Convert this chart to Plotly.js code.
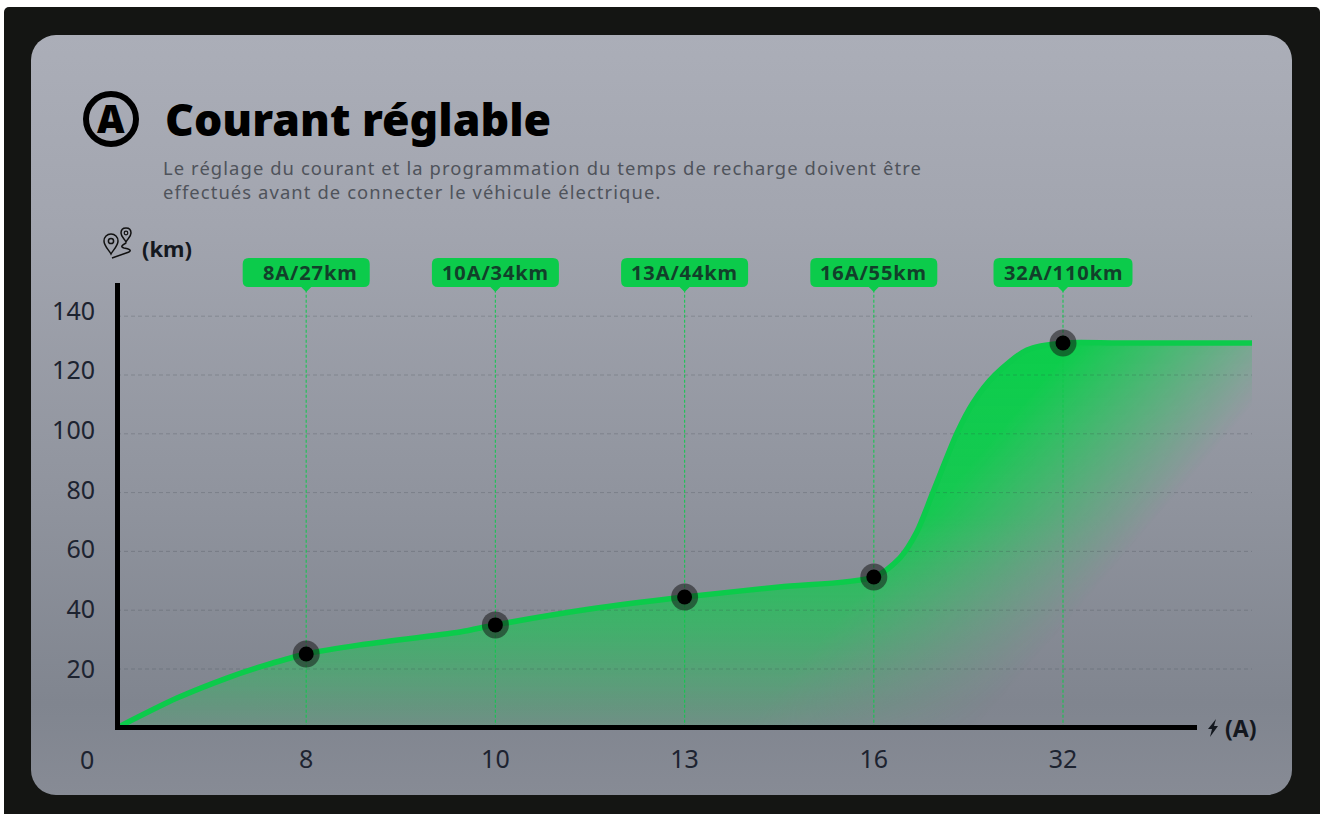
<!DOCTYPE html>
<html><head><meta charset="utf-8">
<script src="https://cdn.plot.ly/plotly-3.0.1.min.js"></script>
<style>
html,body{margin:0;padding:0;background:#fff;width:1322px;height:814px;overflow:hidden}
#frame{position:absolute;left:4px;top:7px;width:1316px;height:807px;background:#141513;border-radius:5px 5px 0 0}
#card{position:absolute;left:31px;top:35px;width:1261px;height:760px;border-radius:25px;
background:linear-gradient(180deg,#abaeb8 0%,#a2a5af 25%,#90949e 60%,#80858f 88%,#878b95 100%)}
#chart{position:absolute;left:0;top:0;width:1322px;height:814px}
</style></head><body>
<div id="frame"></div><div id="card"></div><div id="chart"></div>
<script>
// ---- data ----
const categories = ['8','10','13','16','32'];
const categoryPos = [1,2,3,4,5];
const rangeKm = [25.1,35,44.5,51.3,130.9];
const pillLabels = ['8A/27km','10A/34km','13A/44km','16A/55km','32A/110km'];
const curveX = [0,.317,.581,.756,1,1.284,1.813,2,2.5,3,3.5,4,4.137,4.227,4.313,4.44,4.524,4.64,4.81,5,5.3,6];
const curveY = [0,10.1,16.9,20.7,25.1,28.2,32.6,35,40.4,44.5,47.9,51.3,57.7,66.6,80.2,100.3,110.5,120,128.5,130.9,130.9,130.9];
const yTicks = [20,40,60,80,100,120,140];

// ---- page geometry helpers ----
const W=1322,H=814,L=117,R=1252,T=283,B=727.8;
const px=x=>x/W, py=y=>1-y/H;
const GREEN='#0ccb4b', INK='#1d2330';
const yMax=(B-T)/((B-669)/20);

function pill(w,h,r,tip){
  const a=w/2;
  return `M${-a+r},0 L${a-r},0 Q${a},0 ${a},${-r} L${a},${-h+r} Q${a},${-h} ${a-r},${-h} `+
   `L${tip},${-h} L0,${-h-tip} L${-tip},${-h} L${-a+r},${-h} Q${-a},${-h} ${-a},${-h+r} L${-a},${-r} Q${-a},0 ${-a+r},0 Z`;
}
function iconShape(x,y,path,o){
  return Object.assign({type:'path',layer:'above',xref:'paper',yref:'paper',xsizemode:'pixel',ysizemode:'pixel',
    xanchor:px(x),yanchor:py(y),path},o);
}
function ring(x,y,r,o){
  return Object.assign({type:'circle',layer:'above',xref:'paper',yref:'paper',xsizemode:'pixel',ysizemode:'pixel',
    xanchor:px(x),yanchor:py(y),x0:-r,x1:r,y0:-r,y1:r,fillcolor:'rgba(0,0,0,0)'},o);
}

const traces=[];
// filled curve
traces.push({x:curveX,y:curveY,mode:'none',type:'scatter',fill:'tozeroy',line:{shape:'spline',smoothing:.8},
  fillgradient:{type:'vertical',colorscale:[[0,'rgba(12,205,75,0.14)'],[0.25,'rgba(12,205,75,0.55)'],[0.55,'rgba(12,205,75,0.92)'],[1,'rgba(12,205,75,1)']]},
  hoverinfo:'skip',showlegend:false});
// grid
yTicks.forEach(v=>traces.push({x:[0,6],y:[v,v],mode:'lines',line:{color:'rgba(50,54,62,0.22)',width:1,dash:'4px,3px'},hoverinfo:'skip',showlegend:false}));
// droplines
categoryPos.forEach(p=>traces.push({x:[p,p],y:[0,149],mode:'lines',line:{color:'rgba(16,200,76,0.85)',width:1.2,dash:'3px,2px'},hoverinfo:'skip',showlegend:false}));
// curve line
traces.push({x:curveX,y:curveY,mode:'lines',line:{shape:'spline',smoothing:.8,color:GREEN,width:5.5},hoverinfo:'skip',showlegend:false});
// markers
traces.push({x:categoryPos,y:rangeKm,mode:'markers',marker:{size:27,color:'rgba(20,20,20,0.52)'},cliponaxis:false,showlegend:false});
traces.push({x:categoryPos,y:rangeKm,mode:'markers',marker:{size:15,color:'#000'},cliponaxis:false,showlegend:false});
// carrier of the label axis
traces.push({x:[0],y:[20],yaxis:'y2',mode:'none',hoverinfo:'skip',showlegend:false});

const ic={line:{color:'#111',width:1.5},fillcolor:'rgba(0,0,0,0)'};
const shapes=[
  {type:'line',xref:'paper',yref:'paper',x0:px(115),x1:px(1197),y0:py(727.5),y1:py(727.5),line:{color:'#000',width:5},layer:'above'},
  {type:'line',xref:'paper',yref:'paper',x0:px(117.5),x1:px(117.5),y0:py(730),y1:py(283),line:{color:'#000',width:5},layer:'above'},
  ring(111,119,25,{line:{color:'#000',width:6}}),
  iconShape(111,241,'M0,-13 C-2,-9 -7,-5 -7,0 C-7,4 -4,7 0,7 C4,7 7,4 7,0 C7,-5 2,-9 0,-13 Z',ic),
  ring(111,241,2.6,ic),
  iconShape(126,233,'M0,-9 C-1,-6 -5,-4 -5,0 C-5,3 -3,5 0,5 C3,5 5,3 5,0 C5,-4 1,-6 0,-9 Z',ic),
  ring(126,233,1.8,{line:{color:'#111',width:1.2}}),
  iconShape(126,243,'M0,0 C-4,-2 -6,-4 -2,-5 C3,-6 6,-7 3,-9 L-14,-15',ic),
  iconShape(1213,728,'M3,9 L-5,-1 L-1,-1 L-3,-9 L5,2 L1,2 Z',{line:{width:0},fillcolor:'#14181f'})
];
categoryPos.forEach((p,i)=>{
  shapes.push({type:'path',layer:'above',xref:'x',yref:'paper',xsizemode:'pixel',ysizemode:'pixel',
    xanchor:p,yanchor:py(258),path:pill(i===4?139:127,29,6,5),line:{width:0},fillcolor:GREEN});
});

const sp=(s,t)=>`<span style="letter-spacing:${s}px">${t}</span>`;
function txt(x,y,text,size,opt){
  return Object.assign({xref:'paper',yref:'paper',x:px(x),y:py(y),text,showarrow:false,xanchor:'left',yanchor:'middle',
    font:Object.assign({family:'"Noto Sans",sans-serif',size,color:INK},opt&&opt.font||{})},opt&&opt.a||{});
}
const annotations=[
  txt(163,118,'Courant réglable',44.6,{font:{weight:900,color:'#000'}}),
  txt(111,118,'A',38,{font:{weight:900,color:'#000'},a:{xanchor:'center'}}),
  txt(161,168,sp(1.09,'Le réglage du courant et la programmation du temps de recharge doivent être'),18.4,{font:{color:'#4f535b'}}),
  txt(161,192,sp(1.09,'effectués avant de connecter le véhicule électrique.'),18.4,{font:{color:'#4f535b'}}),
  txt(140,248,'(km)',22,{font:{weight:700,color:'#14181f'}}),
  txt(1223,728,'(A)',23,{font:{weight:700,color:'#14181f'}}),
  txt(87,759,'0',25,{a:{xanchor:'center'}})
];
categoryPos.forEach((p,i)=>{
  annotations.push({xref:'x',yref:'paper',x:p,y:py(272),text:sp(0.9,pillLabels[i]),showarrow:false,xanchor:'center',yanchor:'middle',
    xshift:i===0?4:0,font:{family:'"Noto Sans",sans-serif',size:20,weight:700,color:'#12402a'}});
});

const tickFont={family:'"Noto Sans",sans-serif',size:25,color:INK};
const layout={
  width:W,height:H,margin:{l:0,r:0,t:0,b:0,pad:0},paper_bgcolor:'rgba(0,0,0,0)',plot_bgcolor:'rgba(0,0,0,0)',showlegend:false,
  xaxis:{domain:[px(L),px(R)],range:[0,(R-L)/((1063-L)/5)],tickmode:'array',tickvals:categoryPos,ticktext:categories,showgrid:false,zeroline:false,showline:false,
    ticks:'',ticklabelstandoff:14,tickfont:tickFont,fixedrange:true},
  yaxis:{domain:[py(B),py(T)],range:[0,yMax],showticklabels:false,ticks:'',showgrid:false,zeroline:false,showline:false,fixedrange:true},
  yaxis2:{domain:[py(B),py(T)],overlaying:'y',side:'left',range:[0.29,149.4],tickmode:'array',tickvals:yTicks,ticktext:yTicks.map(String),showgrid:false,zeroline:false,showline:false,
    ticks:'',ticklabelstandoff:21,tickfont:tickFont,fixedrange:true},
  shapes,annotations
};

function restyleFill(gd){
  // turn the library's fill into the picture's fade towards the lower right
  const path=gd.querySelector('.fills path.js-fill, path.js-fill');
  if(!path) return;
  const svg=path.ownerSVGElement, NS='http://www.w3.org/2000/svg';
  let m=svg.querySelector('#fadeMask');
  if(!m){
    const defs=svg.querySelector('defs');
    const g=document.createElementNS(NS,'linearGradient');
    g.id='fadeGrad';g.setAttribute('gradientUnits','userSpaceOnUse');
    const t0=1040-(0.76*L+0.65*T),t1=1215-(0.76*L+0.65*T);
    g.setAttribute('x1',0.76*t0);g.setAttribute('y1',0.65*t0);g.setAttribute('x2',0.76*t1);g.setAttribute('y2',0.65*t1);
    [[0,'#fff'],[1,'#000']].forEach(s=>{const e=document.createElementNS(NS,'stop');e.setAttribute('offset',s[0]);e.setAttribute('stop-color',s[1]);g.appendChild(e);});
    defs.appendChild(g);
    m=document.createElementNS(NS,'mask');m.id='fadeMask';m.setAttribute('maskUnits','userSpaceOnUse');
    m.setAttribute('x',-200);m.setAttribute('y',-200);m.setAttribute('width',1800);m.setAttribute('height',1200);
    const r=document.createElementNS(NS,'rect');r.setAttribute('x',-200);r.setAttribute('y',-200);r.setAttribute('width',1800);r.setAttribute('height',1200);r.setAttribute('fill','url(#fadeGrad)');
    m.appendChild(r);defs.appendChild(m);
  }
  path.setAttribute('mask','url(#fadeMask)');
}
Plotly.newPlot('chart',traces,layout,{displayModeBar:false,staticPlot:true}).then(gd=>{
  restyleFill(gd);
  gd.on('plotly_afterplot',()=>restyleFill(gd));
});
</script>
</body></html>
